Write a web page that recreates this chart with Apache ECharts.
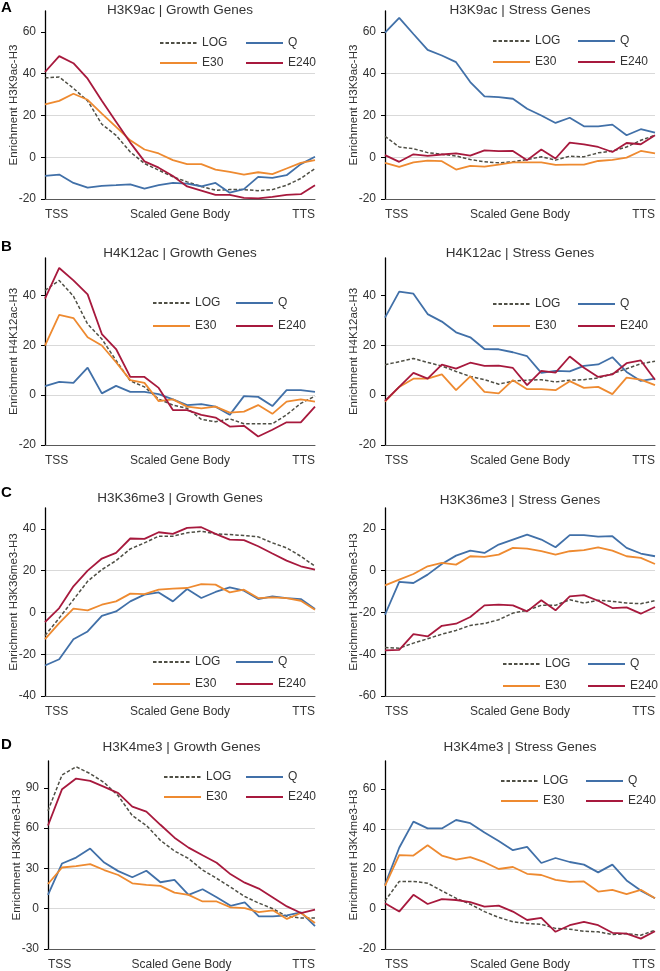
<!DOCTYPE html>
<html><head><meta charset="utf-8">
<script src="https://cdn.jsdelivr.net/npm/echarts@6/dist/echarts.min.js"></script>
<style>html,body{margin:0;padding:0;background:#fff}#c{width:660px;height:971px}</style>
</head><body><div id="c"></div>
<script>
// ---- labels ----
const seriesNames = ['LOG', 'Q', 'E30', 'E240'];
const xTickLabels = ['TSS', 'Scaled Gene Body', 'TTS'];
const panelLetters = ['A', 'B', 'C', 'D'];
const panelTitles = ['H3K9ac | Growth Genes', 'H3K9ac | Stress Genes', 'H4K12ac | Growth Genes', 'H4K12ac | Stress Genes',
  'H3K36me3 | Growth Genes', 'H3K36me3 | Stress Genes', 'H3K4me3 | Growth Genes', 'H3K4me3 | Stress Genes'];
const yAxisNames = ['Enrichment H3K9ac-H3', 'Enrichment H3K9ac-H3', 'Enrichment H4K12ac-H3', 'Enrichment H4K12ac-H3',
  'Enrichment H3K36me3-H3', 'Enrichment H3K36me3-H3', 'Enrichment H3K4me3-H3', 'Enrichment H3K4me3-H3'];
// y-axis ranges [min, max, interval]
const yRanges = [[-20, 70, 20], [-20, 70, 20], [-20, 55, 20], [-20, 55, 20], [-40, 50, 20], [-60, 30, 20], [-30, 110, 30], [-20, 74, 20]];

// ---- data (20 bins from TSS to TTS) ----
const h3k9acGrowth_LOG = [38, 38.4, 33, 27, 15.8, 10.5, 2.5, -3, -6.2, -9.4, -11.8, -14, -15.8, -15.5, -15.5, -16, -15.5, -13.4, -10.2, -5.4];
const h3k9acGrowth_Q = [-8.9, -8.3, -12.3, -14.6, -13.7, -13.4, -13, -15, -13.4, -12.3, -12.6, -13.9, -12.3, -17, -15.3, -9.4, -9.9, -8.6, -3.3, 0.2];
const h3k9acGrowth_E30 = [25.3, 27, 30.4, 27.5, 20.9, 14.5, 8.1, 3.7, 1.8, -1.4, -3.3, -3.3, -5.9, -7, -8.3, -7.2, -8.1, -5.4, -2.7, -1.4];
const h3k9acGrowth_E240 = [40.8, 48.4, 45, 37.6, 27, 17, 7, -2, -5, -9, -14, -16, -18, -18, -19.5, -19.7, -19, -18, -17.7, -13.4];

const h3k9acStress_LOG = [10, 4.9, 4.1, 2.2, 1.4, 0.6, -1.1, -2.2, -2.7, -2.2, -1.1, 0.2, -1.4, 0.5, 0.2, 2.1, 3, 4.9, 8.1, 10.5];
const h3k9acStress_Q = [59.6, 66.7, 59, 51.4, 48.7, 45.5, 36, 29.1, 28.8, 28, 23.2, 20, 16.4, 18.9, 14.8, 14.8, 15.6, 10.5, 13.4, 11.8];
const h3k9acStress_E30 = [-2.7, -4.6, -2.5, -1.6, -1.9, -5.9, -4.1, -4.5, -3.5, -2.5, -2.5, -2.5, -3.7, -3.5, -3.5, -1.8, -1.3, -0.2, 3, 1.8];
const h3k9acStress_E240 = [1, -2.2, 1.4, 0.6, 1.3, 1.8, 0.8, 3.3, 2.9, 3, -1.4, 3.7, -0.6, 7, 6.2, 4.9, 2.5, 6.8, 6.2, 10.5];

const h4k12acGrowth_LOG = [42, 46, 39.7, 28.5, 22.5, 13.9, 5.7, 3.3, -1.6, -4, -5.3, -9.7, -10.7, -9.5, -11.5, -11.5, -11.5, -7.9, -3.3, -0.4];
const h4k12acGrowth_Q = [3.6, 5.3, 4.9, 11, 0.7, 3.7, 1.3, 1.3, 0.4, -1.7, -4, -3.6, -4.6, -7.9, -0.4, -0.7, -4.4, 2, 2, 1.3];
const h4k12acGrowth_E30 = [19.9, 32.2, 30.9, 23.2, 19.9, 13.2, 6, 4.9, -2.4, -1.7, -4.6, -5.3, -4.6, -7, -6.6, -4, -7.5, -2.6, -1.7, -2.6];
const h4k12acGrowth_E240 = [38.7, 51, 46, 40.4, 24.5, 18.5, 7.3, 7.3, 2.9, -6, -6, -7.9, -9, -12.6, -12.3, -16.6, -13.9, -10.9, -10.9, -4.6];

const h4k12acStress_LOG = [12.2, 13.4, 14.7, 13.1, 11.7, 9.5, 7.5, 6.2, 4.4, 5.6, 6, 6.2, 5.3, 6, 6.2, 6.9, 8.6, 10.6, 12.6, 13.6];
const h4k12acStress_Q = [31.1, 41.5, 40.7, 32.5, 29.5, 25.2, 23.2, 18.5, 18.4, 17.2, 15.6, 8.9, 9.7, 9.5, 11.7, 12.3, 15.2, 9.3, 5.7, 6.6];
const h4k12acStress_E30 = [-2.6, 3.3, 6.6, 6.6, 8.3, 2, 7.5, 1.3, 0.7, 6, 2.4, 2.4, 2, 5.6, 2.9, 3.3, 0.4, 7, 6.2, 4];
const h4k12acStress_E240 = [-2.3, 3.3, 8.9, 6.6, 12.2, 10.6, 13, 11.7, 11.8, 10.9, 4, 9.7, 9, 15.5, 11, 7.3, 8.3, 12.8, 13.9, 6.2];

const h3k36me3Growth_LOG = [-11, -2.7, 6.1, 14.9, 20.5, 24.8, 30.4, 33.3, 36.5, 36.5, 38.1, 38.9, 37.6, 37.3, 36.8, 36.2, 33.3, 30.9, 26.9, 22.1];
const h3k36me3Growth_Q = [-25.4, -22.4, -12.8, -9.1, -1.6, 0.5, 5.3, 8.5, 9.6, 5.3, 11.2, 6.9, 9.8, 12, 10.4, 6.4, 7.7, 6.9, 6.4, 1.6];
const h3k36me3Growth_E30 = [-12.8, -5.1, 1.8, 1, 3.7, 5.3, 9, 8.8, 10.9, 11.4, 11.7, 13.6, 13.3, 9.6, 10.9, 6.9, 7.2, 6.9, 5.6, 1.3];
const h3k36me3Growth_E240 = [-4.6, 2.1, 12.5, 20, 25.8, 28.5, 35.4, 35.2, 38.4, 37.6, 40.5, 40.8, 37.6, 34.9, 34.6, 31.7, 28.2, 24.8, 22.1, 20.5];

const h3k36me3Stress_LOG = [-36.8, -37.1, -34.7, -32.6, -30.4, -28.6, -26.2, -25.3, -23.5, -20.3, -19, -16.6, -16.6, -13.9, -15.5, -14.2, -14.7, -15.5, -15.8, -14.4];
const h3k36me3Stress_Q = [-21.1, -5.4, -5.9, -1.9, 3.2, 7.2, 9.6, 8.5, 12.5, 14.9, 17.3, 14.9, 11.2, 17, 17, 16.3, 16.5, 10.9, 8.2, 6.9];
const h3k36me3Stress_E30 = [-7, -4.3, -1.6, 2.1, 3.7, 2.9, 6.9, 6.6, 7.7, 10.9, 10.6, 9.3, 7.7, 9.3, 9.8, 11.2, 9.6, 6.9, 6.1, 3.2];
const h3k36me3Stress_E240 = [-38.2, -37.9, -30.4, -31.5, -26.4, -25.4, -22.2, -16.6, -16.3, -16.6, -19.5, -14.2, -19, -12.3, -11.7, -14.4, -17.9, -17.6, -20.6, -17.4];

const h3k4me3Growth_LOG = [73, 99.6, 105.7, 100.6, 93.9, 84.1, 69.3, 62, 50.9, 43, 37.4, 28.8, 22.6, 16, 9.1, 4.2, 0, -5.7, -6.9, -6.9];
const h3k4me3Growth_Q = [10.3, 33.7, 38.1, 44.8, 34.4, 28, 23.4, 28.3, 19.7, 21.4, 10.3, 14.5, 8.6, 2.2, 4.7, -5.7, -5.7, -4.9, -2.7, -13];
const h3k4me3Growth_E30 = [18.4, 30.7, 31.7, 33.2, 28.8, 25.1, 18.9, 17.7, 17, 12, 10.3, 5.4, 5.4, 1, 0.5, -2.5, -1.2, -7.6, -3.2, -10.6];
const h3k4me3Growth_E240 = [62, 89, 96.9, 95.2, 90.7, 86.1, 76, 72.3, 62.5, 52.9, 45.5, 39.8, 34.2, 25.6, 19.4, 15, 8.4, 1.7, -3.2, -0.7];

const h3k4me3Stress_LOG = [4, 13.8, 13.8, 12.9, 9.1, 5.4, 2.4, -1.3, -4.2, -6.4, -7.2, -7.7, -9.7, -10.1, -11.1, -11.4, -12.8, -12.3, -13.1, -10.6];
const h3k4me3Stress_Q = [12.1, 30.6, 43.7, 40.3, 40.3, 44.5, 42.9, 38.2, 34, 29.4, 31.1, 23, 25.5, 23.5, 22.2, 18.3, 22.2, 14.3, 9.2, 5.4];
const h3k4me3Stress_E30 = [11.6, 26.9, 26.7, 31.9, 26.7, 24.7, 25.9, 23.4, 20, 21, 17.6, 17, 14.6, 13.6, 13.8, 8.7, 9.6, 7.4, 9.6, 5.4];
const h3k4me3Stress_E240 = [2.9, -1.3, 7.1, 2.5, 4.9, 4.5, 3.4, 1.2, 1.7, -1.3, -5.5, -4.4, -11.4, -8.1, -6.4, -8.1, -11.9, -12.3, -14.8, -11.1];

const panelData = [
  [h3k9acGrowth_LOG, h3k9acGrowth_Q, h3k9acGrowth_E30, h3k9acGrowth_E240],
  [h3k9acStress_LOG, h3k9acStress_Q, h3k9acStress_E30, h3k9acStress_E240],
  [h4k12acGrowth_LOG, h4k12acGrowth_Q, h4k12acGrowth_E30, h4k12acGrowth_E240],
  [h4k12acStress_LOG, h4k12acStress_Q, h4k12acStress_E30, h4k12acStress_E240],
  [h3k36me3Growth_LOG, h3k36me3Growth_Q, h3k36me3Growth_E30, h3k36me3Growth_E240],
  [h3k36me3Stress_LOG, h3k36me3Stress_Q, h3k36me3Stress_E30, h3k36me3Stress_E240],
  [h3k4me3Growth_LOG, h3k4me3Growth_Q, h3k4me3Growth_E30, h3k4me3Growth_E240],
  [h3k4me3Stress_LOG, h3k4me3Stress_Q, h3k4me3Stress_E30, h3k4me3Stress_E240]
];

// ---- layout & style ----
const FONT = 'Arial, "Liberation Sans", sans-serif';
const grids = [
  {left: 45, top: 11, width: 270, height: 188}, {left: 385, top: 11, width: 270, height: 188},
  {left: 45, top: 258, width: 270, height: 187}, {left: 385, top: 258, width: 270, height: 187},
  {left: 45, top: 508, width: 270, height: 188}, {left: 385, top: 508, width: 270, height: 188},
  {left: 48, top: 761, width: 267, height: 188}, {left: 385, top: 761, width: 270, height: 188}
];
// legend anchor: [x col1, x col2, y row1, y row2]
const legendPos = [
  [159, 245, 44, 64], [492, 577, 42, 63],
  [152, 235, 304, 327], [492, 577, 305, 327],
  [152, 235, 663, 685], [502, 587, 665, 687],
  [163, 245, 778, 798], [500, 585, 782, 802]
];
const titleTops = [3, 3, 246, 246, 491, 493, 740, 740];
const letterTops = [0, 239, 485, 737];
const seriesStyle = [
  {color: '#4f4f45', width: 1.5, type: [3.5, 2]},
  {color: '#4170a8', width: 1.8, type: 'solid'},
  {color: '#ee8a30', width: 1.8, type: 'solid'},
  {color: '#a7193d', width: 1.8, type: 'solid'}
];

const title = [], legend = [], xAxis = [], yAxis = [], series = [];
panelLetters.forEach((l, i) => title.push({text: l, left: 1, top: letterTops[i], padding: 0,
  textStyle: {fontFamily: FONT, fontSize: 15, fontWeight: 'bold', color: '#000'}}));

grids.forEach((g, k) => {
  const [ymin, ymax, yint] = yRanges[k];
  const ticks = [];
  for (let v = ymin; v <= ymax; v += yint) ticks.push(v);
  title.push({text: panelTitles[k], left: g.left + g.width / 2, top: titleTops[k], textAlign: 'center', padding: 0,
    textStyle: {fontFamily: FONT, fontSize: 13.5, fontWeight: 'normal', color: '#333'}});
  xAxis.push({type: 'value', gridIndex: k, min: 0, max: 19, interval: 9.5,
    axisLine: {onZero: false, lineStyle: {color: '#595959', width: 1}},
    axisTick: {show: false}, splitLine: {show: false},
    axisLabel: {margin: 10, fontFamily: FONT, fontSize: 12, color: '#333', alignMinLabel: 'left', alignMaxLabel: 'right',
      formatter: v => v === 0 ? xTickLabels[0] : (v === 19 ? xTickLabels[2] : xTickLabels[1])}});
  yAxis.push({type: 'value', gridIndex: k, min: ymin, max: ymax, interval: yint,
    name: yAxisNames[k], nameLocation: 'middle', nameGap: 25, nameMoveOverlap: false,
    nameTextStyle: {fontFamily: FONT, fontSize: 11.5, color: '#333'},
    axisLine: {show: true, onZero: false, lineStyle: {color: '#000', width: 1.3}},
    axisTick: {show: true, length: 4, lineStyle: {color: '#000'}, customValues: ticks},
    axisLabel: {margin: 9, fontFamily: FONT, fontSize: 12, color: '#333', customValues: ticks},
    splitLine: {show: true, showMinLine: false, showMaxLine: false, lineStyle: {color: '#d9d9d9', width: 1}}});
  const lp = legendPos[k];
  seriesNames.forEach((name, s) => {
    const st = seriesStyle[s];
    series.push({type: 'line', name: name, xAxisIndex: k, yAxisIndex: k, symbol: 'none', silent: true,
      data: panelData[k][s].map((v, i) => [i, v]),
      itemStyle: {color: st.color},
      lineStyle: {color: st.color, width: st.width, type: st.type}});
    legend.push({data: [name], left: lp[s % 2], top: lp[2 + Math.floor(s / 2)] - 7, padding: 0,
      itemWidth: 37, itemHeight: 14, selectedMode: false,
      itemStyle: {opacity: 0},
      textStyle: {fontFamily: FONT, fontSize: 12, color: '#333'}});
  });
});

const chart = echarts.init(document.getElementById('c'), null, {renderer: 'canvas'});
chart.setOption({animation: false, backgroundColor: '#fff', title, legend, grid: grids, xAxis, yAxis, series});
</script></body></html>
